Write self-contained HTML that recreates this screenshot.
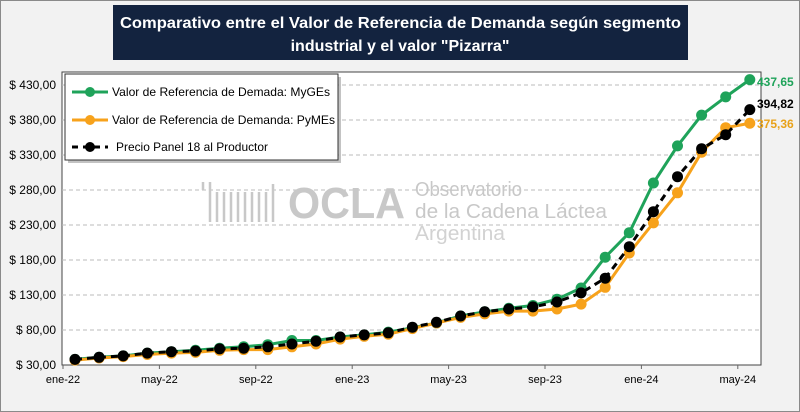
<!DOCTYPE html>
<html><head><meta charset="utf-8"><style>
html,body{margin:0;padding:0;width:800px;height:412px;overflow:hidden;background:#f2f2f2;font-family:"Liberation Sans",sans-serif}
</style></head><body>
<svg id="s" width="800" height="412" xmlns="http://www.w3.org/2000/svg" font-family="Liberation Sans, sans-serif">
<rect x="0.5" y="0.5" width="799" height="411" fill="#f2f2f2" stroke="#8a8a8a"/>
<rect x="113" y="5" width="575" height="55" fill="#13233f"/>
<text x="120" y="28" fill="#fff" font-size="16" font-weight="bold" textLength="561" lengthAdjust="spacingAndGlyphs">Comparativo entre el Valor de Referencia de Demanda según segmento</text>
<text x="400" y="51" fill="#fff" font-size="16" font-weight="bold" text-anchor="middle">industrial y el valor "Pizarra"</text>
<rect x="62" y="72" width="699" height="293" fill="#fff" stroke="#444" stroke-width="1"/>
<g id="grid" stroke="#bbb" stroke-dasharray="4,3" stroke-width="1"></g>
<g fill="#c8c8c8">
<path d="M203 190 v-8 M210 222 v-40 M217 222 v-30 M224 222 v-30 M231 222 v-30 M238 222 v-30 M245 222 v-30 M252 222 v-30 M259 222 v-30 M266 222 v-30 M273 222 v-38" stroke="#c8c8c8" stroke-width="2.5" fill="none"/>
<text x="288" y="218" font-size="44" font-weight="bold" textLength="117" lengthAdjust="spacingAndGlyphs">OCLA</text>
<text x="415" y="196" font-size="20" textLength="107" lengthAdjust="spacingAndGlyphs">Observatorio</text>
<text x="415" y="218" font-size="20" textLength="192" lengthAdjust="spacingAndGlyphs">de la Cadena Láctea</text>
<text x="415" y="240" font-size="20" fill="#d2d2d2" textLength="90" lengthAdjust="spacingAndGlyphs">Argentina</text>
</g>
<g id="yl" font-size="12" fill="#000" text-anchor="end"></g>
<g id="xl" font-size="11" fill="#000" text-anchor="middle"></g>
<g id="series"></g>
<text x="757" y="86" font-size="12" font-weight="bold" fill="#1fa35a">437,65</text>
<text x="757" y="108" font-size="12" font-weight="bold" fill="#000">394,82</text>
<text x="757" y="128" font-size="12" font-weight="bold" fill="#e8a21a">375,36</text>
<rect x="68" y="77" width="273" height="86" fill="#888" opacity="0.5"/>
<rect x="65" y="74" width="273" height="86" fill="#fff" stroke="#333"/>
<line x1="72" y1="92" x2="108" y2="92" stroke="#1fa35a" stroke-width="3"/><circle cx="90" cy="92" r="5" fill="#1fa35a"/>
<text x="112" y="96" font-size="12" textLength="218" lengthAdjust="spacingAndGlyphs">Valor de Referencia de Demada: MyGEs</text>
<line x1="72" y1="120" x2="108" y2="120" stroke="#f7a21b" stroke-width="3"/><circle cx="90" cy="120" r="5" fill="#f7a21b"/>
<text x="112" y="124" font-size="12" textLength="223" lengthAdjust="spacingAndGlyphs">Valor de Referencia de Demanda: PyMEs</text>
<line x1="72" y1="147" x2="108" y2="147" stroke="#000" stroke-width="3" stroke-dasharray="6,5"/><circle cx="90" cy="147" r="5" fill="#000"/>
<text x="116" y="151" font-size="12" textLength="152" lengthAdjust="spacingAndGlyphs">Precio Panel 18 al Productor</text>
</svg>
<script>
var NS="http://www.w3.org/2000/svg";
function el(p,t,a){var e=document.createElementNS(NS,t);for(var k in a)e.setAttribute(k,a[k]);p.appendChild(e);return e;}
function Y(v){return 365-(v-30)*0.7;}
function X(i){return 75+i*24.1;}
var g=document.getElementById('grid'),yl=document.getElementById('yl'),xl=document.getElementById('xl');
for(var v=30;v<=430;v+=50){ if(v>30)el(g,'line',{x1:62,x2:761,y1:Y(v),y2:Y(v)});
 var t=el(yl,'text',{x:56,y:Y(v)+4});t.textContent='$ '+v+',00';}
var lab=['ene-22','may-22','sep-22','ene-23','may-23','sep-23','ene-24','may-24'];
for(var k=0;k<8;k++){var x=63+4*k*24.1;el(xl,'line',{x1:x,x2:x,y1:365,y2:369,stroke:'#666'});var t=el(xl,'text',{x:x,y:383});t.textContent=lab[k];}
var B=[38,41,43,47,49,50,53,54,56,60,64,70,73,76,84,91,100,106,110,113,120,133,154,199,249,299,339,359,394.82];
var G=[38,41,43,47,49,51,54,56,59,65,65,70,73,77,83,90,100,106,111,115,124,140,184,219,290,343,387,413,437.65];
var O=[37,40,42,45,47,48,51,52,52,56,60,67,71,74,82,90,98,103,107,107,110,117,141,190,233,276,334,369,375.36];
var s=document.getElementById('series');
function draw(d,c,dash){var p=d.map(function(v,i){return X(i)+','+Y(v)}).join(' ');
 var a={points:p,fill:'none',stroke:c,'stroke-width':3,'stroke-linejoin':'round'};if(dash)a['stroke-dasharray']='7,5';el(s,'polyline',a);
 d.forEach(function(v,i){el(s,'circle',{cx:X(i),cy:Y(v),r:5.5,fill:c});});}
draw(G,'#1fa35a');draw(O,'#f7a21b');draw(B,'#000',true);
</script>
</body></html>
